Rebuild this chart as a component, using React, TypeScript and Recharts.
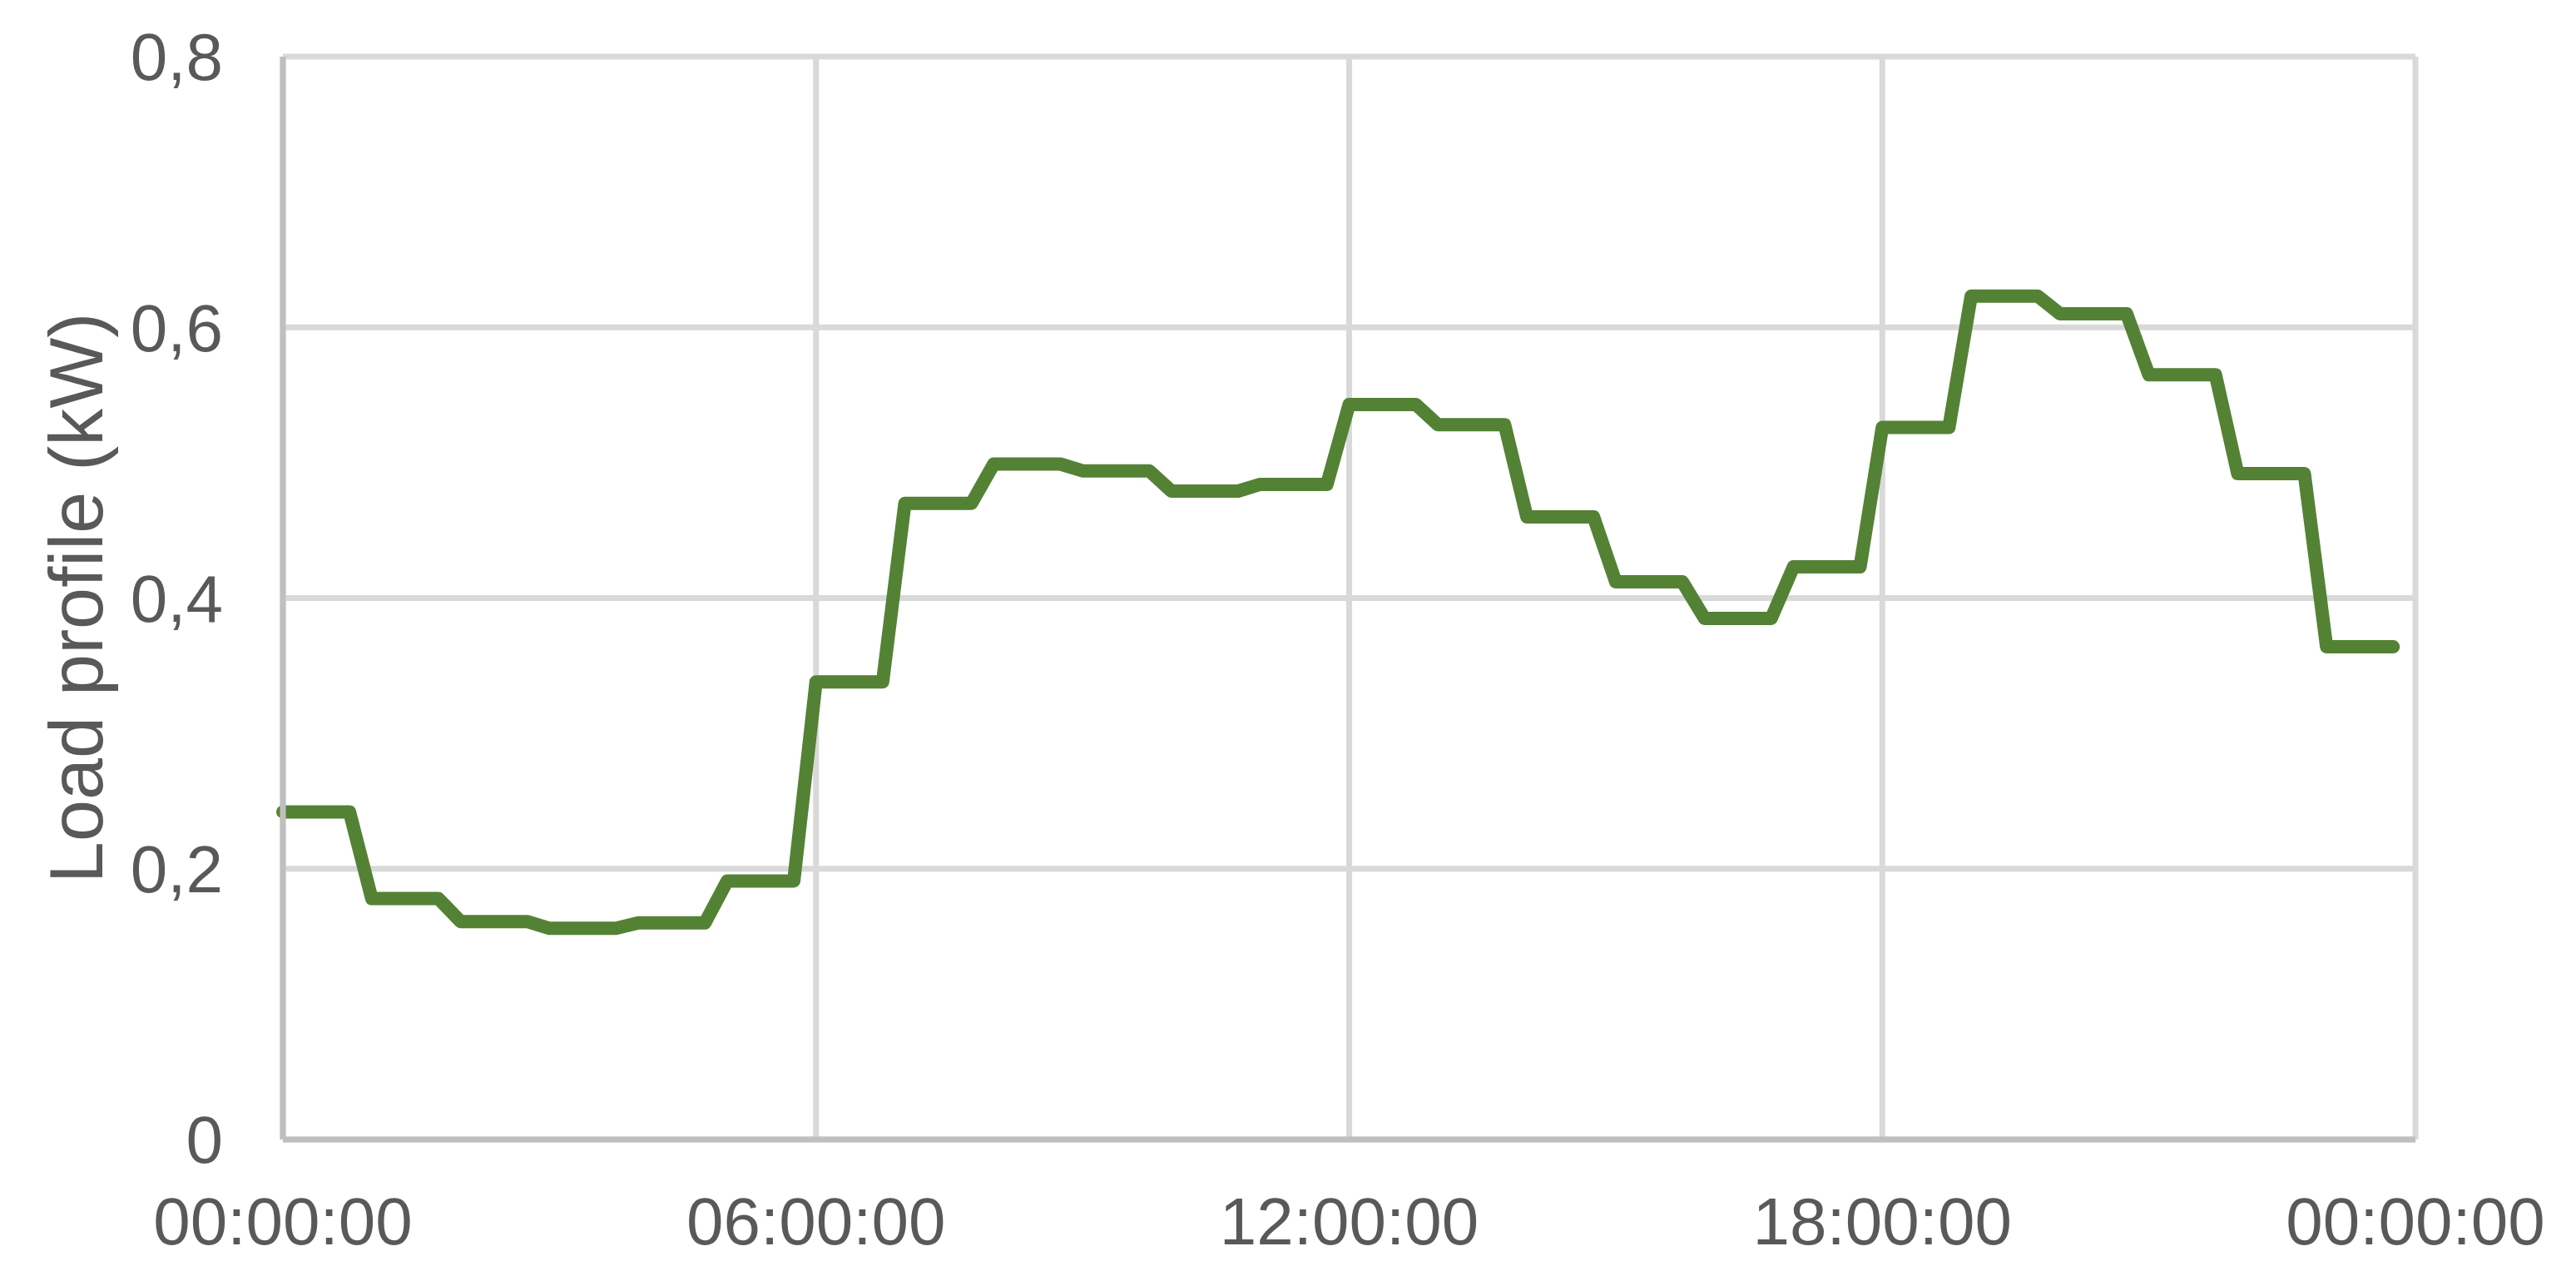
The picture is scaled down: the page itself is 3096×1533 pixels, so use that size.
import { LineChart, Line, XAxis, YAxis, CartesianGrid, Label } from "recharts";

// load profile in kW, one value per 15 minutes (00:00 .. 23:45)
const loadKw = [
  0.242, 0.242, 0.242, 0.242,
  0.178, 0.178, 0.178, 0.178,
  0.161, 0.161, 0.161, 0.161,
  0.156, 0.156, 0.156, 0.156,
  0.16, 0.16, 0.16, 0.16,
  0.191, 0.191, 0.191, 0.191,
  0.338, 0.338, 0.338, 0.338,
  0.47, 0.47, 0.47, 0.47,
  0.499, 0.499, 0.499, 0.499,
  0.494, 0.494, 0.494, 0.494,
  0.479, 0.479, 0.479, 0.479,
  0.484, 0.484, 0.484, 0.484,
  0.543, 0.543, 0.543, 0.543,
  0.528, 0.528, 0.528, 0.528,
  0.46, 0.46, 0.46, 0.46,
  0.412, 0.412, 0.412, 0.412,
  0.385, 0.385, 0.385, 0.385,
  0.423, 0.423, 0.423, 0.423,
  0.526, 0.526, 0.526, 0.526,
  0.623, 0.623, 0.623, 0.623,
  0.61, 0.61, 0.61, 0.61,
  0.565, 0.565, 0.565, 0.565,
  0.492, 0.492, 0.492, 0.492,
  0.364, 0.364, 0.364, 0.364,
];

const stepHours = 0.25;
const xTicks = [0, 6, 12, 18, 24];
const yTicks = [0, 0.2, 0.4, 0.6, 0.8];
const yTitle = "Load profile (kW)";

const data = loadKw.map((kw, i) => ({ hour: i * stepHours, kw }));

const font = "'Liberation Sans', Arial, sans-serif";
const textColor = "#595959";

const fmtTime = (h: number) => String(h % 24).padStart(2, "0") + ":00:00";
const fmtKw = (v: number) => (v === 0 ? "0" : v.toFixed(1).replace(".", ","));

export default function App() {
  return (
    <LineChart width={3080} height={1517} data={data} margin={{ top: 60, right: 185, bottom: 56, left: 132 }}>
      <CartesianGrid stroke="#d9d9d9" strokeWidth={7} />
      <XAxis
        dataKey="hour"
        type="number"
        domain={[0, 24]}
        ticks={xTicks}
        tickFormatter={fmtTime}
        height={100}
        tickSize={0}
        tickMargin={69}
        axisLine={{ stroke: "#bfbfbf", strokeWidth: 7 }}
        tick={{ fill: textColor, fontSize: 80, fontFamily: font }}
      />
      <YAxis
        type="number"
        domain={[0, 0.8]}
        ticks={yTicks}
        tickFormatter={fmtKw}
        width={200}
        tickSize={0}
        tickMargin={72}
        axisLine={{ stroke: "#bfbfbf", strokeWidth: 7 }}
        tick={{ fill: textColor, fontSize: 80, fontFamily: font }}
      >
        <Label
          content={({ viewBox }: any) => {
            const cx = 84;
            const cy = viewBox.y + viewBox.height / 2;
            return (
              <text
                x={cx}
                y={cy}
                transform={`rotate(-90, ${cx}, ${cy})`}
                textAnchor="middle"
                dominantBaseline="central"
                fill={textColor}
                fontSize={90}
                fontFamily={font}
              >
                {yTitle}
              </text>
            );
          }}
        />
      </YAxis>
      <Line
        type="linear"
        dataKey="kw"
        stroke="#548235"
        strokeWidth={16}
        strokeLinejoin="round"
        strokeLinecap="round"
        dot={false}
        isAnimationActive={false}
      />
    </LineChart>
  );
}
